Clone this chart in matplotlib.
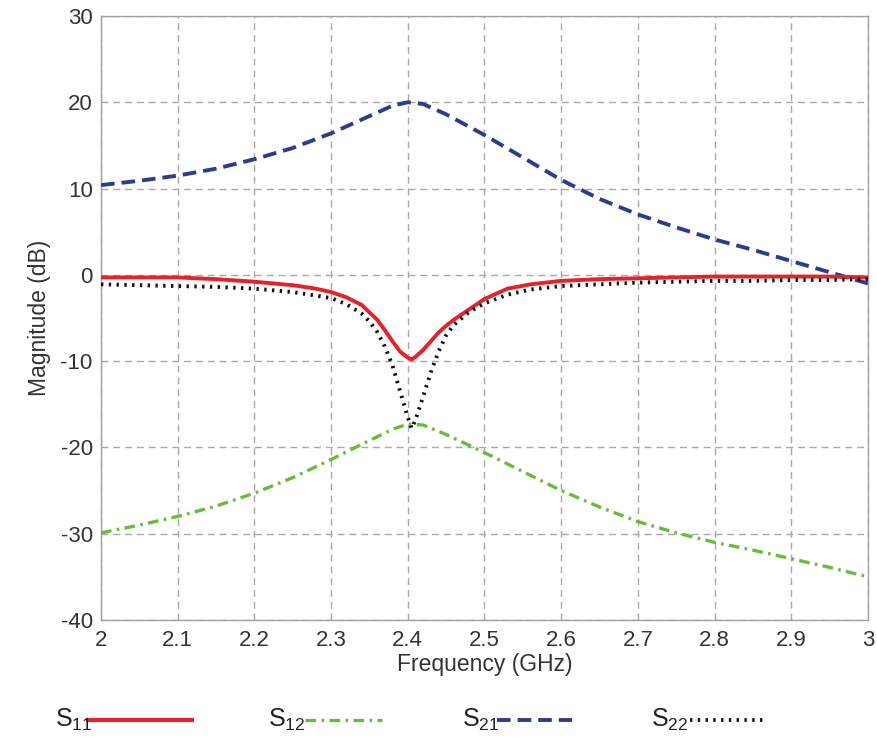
import matplotlib
matplotlib.use("Agg")
import matplotlib.pyplot as plt
from matplotlib.lines import Line2D

plt.rcParams['font.family'] = ['Liberation Sans', 'DejaVu Sans']
plt.rcParams['axes.unicode_minus'] = False

# ---- data ----
f_smooth = [2.00, 2.05, 2.10, 2.15, 2.20, 2.25, 2.30, 2.35, 2.38, 2.40, 2.42, 2.45,
            2.50, 2.55, 2.60, 2.65, 2.70, 2.75, 2.80, 2.85, 2.90, 2.95, 3.00]
s21 = [10.4, 10.9, 11.5, 12.3, 13.4, 14.7, 16.4, 18.4, 19.6, 20.0, 19.8, 18.6,
       16.2, 13.6, 11.0, 8.8, 7.0, 5.5, 4.1, 2.9, 1.6, 0.3, -1.0]
s12 = [-29.9, -29.0, -28.0, -26.8, -25.3, -23.5, -21.4, -19.2, -17.9, -17.3, -17.4, -18.5,
       -20.6, -22.8, -25.0, -26.9, -28.6, -29.9, -31.0, -31.9, -32.9, -33.9, -35.0]

f_s11 = [2.00, 2.05, 2.10, 2.15, 2.20, 2.25, 2.28, 2.30, 2.32, 2.34, 2.36, 2.37, 2.38, 2.39,
         2.40, 2.405, 2.41, 2.42, 2.43, 2.44, 2.45, 2.46, 2.47, 2.48, 2.50, 2.53, 2.56, 2.60,
         2.65, 2.70, 2.75, 2.80, 2.85, 2.90, 2.95, 3.00]
s11 = [-0.3, -0.3, -0.3, -0.5, -0.8, -1.2, -1.6, -2.0, -2.6, -3.5, -5.2, -6.4, -7.7, -8.9,
       -9.6, -9.8, -9.5, -8.7, -7.7, -6.7, -5.9, -5.2, -4.6, -4.0, -2.8, -1.6, -1.1, -0.7,
       -0.5, -0.4, -0.3, -0.2, -0.2, -0.2, -0.2, -0.3]

f_s22 = [2.00, 2.05, 2.10, 2.15, 2.20, 2.25, 2.28, 2.30, 2.32, 2.34, 2.35, 2.36, 2.37, 2.38,
         2.39, 2.40, 2.405, 2.41, 2.42, 2.43, 2.44, 2.45, 2.46, 2.48, 2.50, 2.53, 2.56, 2.60,
         2.65, 2.70, 2.75, 2.80, 2.85, 2.90, 2.95, 3.00]
s22 = [-1.1, -1.2, -1.3, -1.4, -1.6, -2.0, -2.4, -2.7, -3.4, -4.5, -5.4, -6.6, -8.3, -10.5,
       -13.5, -16.5, -17.8, -16.8, -14.1, -11.3, -8.9, -7.0, -5.8, -4.3, -3.3, -2.3, -1.7, -1.3,
       -1.1, -0.9, -0.8, -0.7, -0.7, -0.6, -0.6, -0.5]

x_ticks = [2, 2.1, 2.2, 2.3, 2.4, 2.5, 2.6, 2.7, 2.8, 2.9, 3]
x_tick_labels = ['2', '2.1', '2.2', '2.3', '2.4', '2.5', '2.6', '2.7', '2.8', '2.9', '3']
y_ticks = [-40, -30, -20, -10, 0, 10, 20, 30]

legend_labels = ['11', '12', '21', '22']

# ---- styles ----
c_red = '#e3232c'
c_green = '#6cba3c'
c_blue = '#2f3c8c'
c_black = '#111111'

fig = plt.figure(figsize=(8.77, 7.46), dpi=100)
ax = fig.add_axes([0.1152, 0.1689, 0.8745, 0.8097])

ax.plot(f_smooth, s21, color=c_blue, lw=2.8, linestyle=(0, (3.5, 1.8)), zorder=3)
ax.plot(f_smooth, s12, color=c_green, lw=2.4, linestyle=(0, (3.2, 1.6, 0.8, 1.6)), zorder=3)
ax.plot(f_s11, s11, color=c_red, lw=2.8, zorder=4)
ax.plot(f_s22, s22, color=c_black, lw=2.8, linestyle=(0, (0.6, 1.4)), zorder=5)

ax.set_xlim(2, 3)
ax.set_ylim(-40, 30)
ax.set_xticks(x_ticks)
ax.set_xticklabels(x_tick_labels)
ax.set_yticks(y_ticks)
ax.grid(True, color='#a8a8a8', linestyle=(0, (5, 3.5)), lw=1.0)
for s in ax.spines.values():
    s.set_color('#a0a0a0')
    s.set_linewidth(1.0)
ax.tick_params(length=0, labelsize=16, labelcolor='#333333')
ax.tick_params(axis='x', pad=7)
ax.tick_params(axis='y', pad=6)
ax.set_xlabel('Frequency (GHz)', fontsize=16.5, color='#333333', va='center')
ax.xaxis.set_label_coords(0.5, -(664 - 620) / 604)
ax.set_ylabel('Magnitude (dB)', fontsize=16.5, color='#333333', va='center')
ax.yaxis.set_label_coords((39 - 101) / 767, 0.5)

# ---- legend below ----
leg_text_x = [55, 268, 462, 651]
leg_line = [(88, 192), (305, 382), (497, 572), (690, 765)]
styles = [dict(color=c_red, lw=3.0),
          dict(color=c_green, lw=2.4, linestyle=(0, (3.2, 1.6, 0.8, 1.6))),
          dict(color=c_blue, lw=2.8, linestyle=(0, (3.5, 1.8))),
          dict(color=c_black, lw=2.8, linestyle=(0, (0.6, 1.4)))]
W, H = 877.0, 746.0
ly = 1 - 720 / H
for tx, (l0, l1), lab, st in zip(leg_text_x, leg_line, legend_labels, styles):
    fig.text(tx / W, ly, 'S$_{\\mathregular{%s}}$' % lab, fontsize=18,
             family=['Liberation Sans Narrow', 'Liberation Sans', 'DejaVu Sans'],
             color='#222222', va='center', ha='left')
    fig.add_artist(Line2D([l0 / W, l1 / W], [ly, ly], transform=fig.transFigure, **st))

fig.savefig('out.png', dpi=100, facecolor='white')
